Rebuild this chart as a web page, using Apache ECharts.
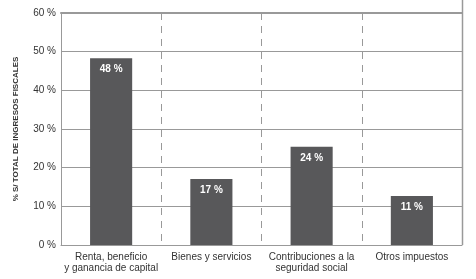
<!DOCTYPE html>
<html>
<head>
<meta charset="utf-8">
<script src="https://cdn.jsdelivr.net/npm/echarts@6/dist/echarts.min.js"></script>
<style>
  html, body { margin: 0; padding: 0; background: #fff; }
  #chart { width: 476px; height: 279px; }
</style>
</head>
<body>
<div id="chart"></div>
<script>
// datos
var categorias = ['Renta, beneficio\ny ganancia de capital', 'Bienes y servicios', 'Contribuciones a la\nseguridad social', 'Otros impuestos'];
var valores = [48.3, 17.1, 25.4, 12.7];
var etiquetas = ['48 %', '17 %', '24 %', '11 %'];
var ticksY = [0, 10, 20, 30, 40, 50, 60];

var fuente = '"Liberation Sans Narrow", "Liberation Sans", sans-serif';
var gris = '#999999';

var myChart = echarts.init(document.getElementById('chart'));

var option = {
    animation: false,
    grid: { left: 61, right: 14, top: 13, bottom: 34 },
    xAxis: [
        {
            type: 'category',
            data: categorias,
            axisLine: { lineStyle: { color: gris, width: 1 } },
            axisTick: { show: false },
            axisLabel: { interval: 0, color: '#333', fontFamily: fuente, fontSize: 10, lineHeight: 11, margin: 7 },
            splitLine: { show: true, interval: 0, lineStyle: { color: gris, type: [7, 6], width: 1 } }
        },
        {
            type: 'category',
            position: 'top',
            data: categorias,
            axisLine: { lineStyle: { color: gris, width: 2 } },
            axisTick: { show: false },
            axisLabel: { show: false }
        }
    ],
    yAxis: {
        type: 'value',
        min: ticksY[0],
        max: ticksY[ticksY.length - 1],
        interval: 10,
        name: '% S/ TOTAL DE INGRESOS FISCALES',
        nameLocation: 'middle',
        nameGap: 41,
        nameTextStyle: { color: '#333', fontFamily: fuente, fontSize: 8, fontWeight: 'bold' },
        axisLine: { show: true, lineStyle: { color: gris, width: 1 } },
        axisTick: { show: false },
        axisLabel: { color: '#333', fontFamily: fuente, fontSize: 10, margin: 5, formatter: '{value} %' },
        splitLine: { lineStyle: { color: gris, width: 1 } }
    },
    graphic: [
        { type: 'line', shape: { x1: 462.5, y1: 0, x2: 462.5, y2: 245 }, style: { stroke: gris, lineWidth: 1.5 } }
    ],
    series: [
        {
            type: 'bar',
            data: valores,
            barWidth: '42%',
            itemStyle: { color: '#58585a' },
            label: {
                show: true,
                position: 'insideTop',
                distance: 6,
                color: '#fff',
                fontFamily: fuente,
                fontSize: 10,
                fontWeight: 'bold',
                formatter: function (p) { return etiquetas[p.dataIndex]; }
            }
        }
    ]
};

myChart.setOption(option);
</script>
</body>
</html>
